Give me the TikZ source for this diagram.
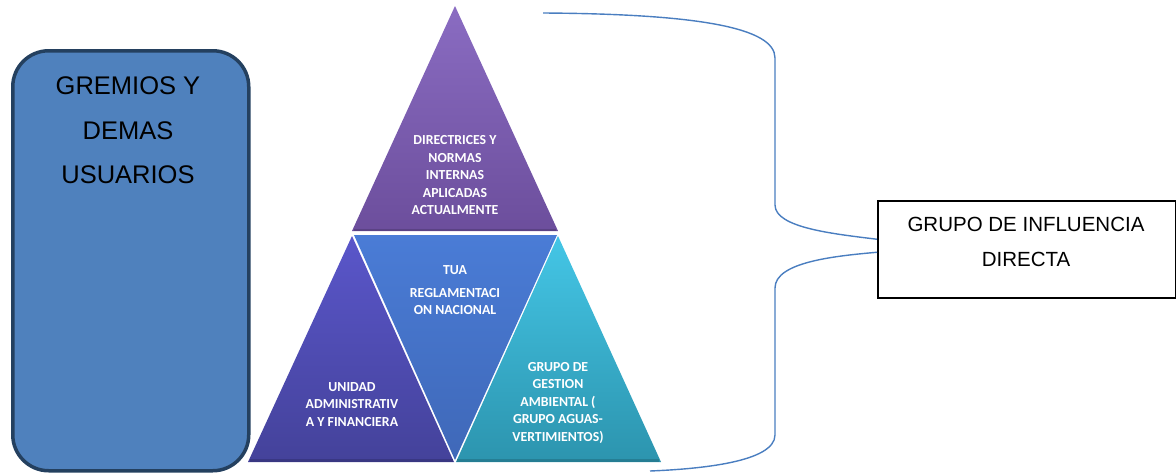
\documentclass[tikz,border=0pt]{standalone}
\usepackage{fontspec}
\setmainfont{Liberation Sans}
\newfontfamily\carl{Carlito}
\definecolor{boxblue}{HTML}{4F81BD}
\definecolor{boxedge}{HTML}{24405F}
\definecolor{brcol}{HTML}{4A7EC0}
\definecolor{purtop}{HTML}{8A6CC2}
\definecolor{purbot}{HTML}{6C4E9C}
\definecolor{indtop}{HTML}{5A56CA}
\definecolor{indbot}{HTML}{44429A}
\definecolor{midtop}{HTML}{4A7CD6}
\definecolor{midbot}{HTML}{3F68B8}
\definecolor{cyatop}{HTML}{44C6E6}
\definecolor{cyabot}{HTML}{2C94AE}
\begin{document}
\begin{tikzpicture}[x=1pt,y=-1pt,
  tritext/.style={text=white, font=\carl\bfseries\fontsize{13.8}{17.5}\selectfont, align=center, inner sep=0pt},
  bigtext/.style={text=black, align=center, inner sep=0pt},
  brace/.style={draw=brcol, line width=1.4pt}]
\useasboundingbox (0,0) rectangle (1176,472);
% left rounded box
\node[draw=boxedge, line width=3.5pt, fill=boxblue, rounded corners=36pt,
      minimum width=236pt, minimum height=420pt, anchor=north west, inner sep=0pt] (gremios) at (11,49) {};
\node[bigtext, font=\fontsize{25.5}{44.5}\selectfont] (gremiostext) at (128,130.5) {GREMIOS Y\\DEMAS\\USUARIOS};
% triangles
\shade[top color=purtop, bottom color=purbot] (455,6) -- (558,231) -- (352,231) -- cycle;
\draw[purbot!70!black, line width=2.5pt, opacity=0.5] (354,230) -- (556,230);
\shade[top color=indtop, bottom color=indbot] (352,236) -- (454,462) -- (248,462) -- cycle;
\shade[top color=midtop, bottom color=midbot] (354,235) -- (557,235) -- (455,460) -- cycle;
\shade[top color=cyatop, bottom color=cyabot] (558,236) -- (661,462) -- (456,462) -- cycle;
\draw[indbot!70!black, line width=3pt, opacity=0.5] (250,460.5) -- (453,460.5);
\draw[cyabot!70!black, line width=3pt, opacity=0.5] (457,460.5) -- (659,460.5);
% triangle texts
\node[tritext] (directrices) at (455,175.5) {DIRECTRICES Y\\NORMAS\\INTERNAS\\APLICADAS\\ACTUALMENTE};
\node[tritext] (tua) at (455,290.5) {TUA\\[5pt]REGLAMENTACI\\ON NACIONAL};
\node[tritext] (unidad) at (352,404.5) {UNIDAD\\ADMINISTRATIV\\A Y FINANCIERA};
\node[tritext] (gestion) at (558,403) {GRUPO DE\\GESTION\\AMBIENTAL (\\GRUPO AGUAS-\\VERTIMIENTOS)};
% right box
\node[draw=black, line width=1.5pt, fill=white, minimum width=298pt, minimum height=97pt,
      anchor=north west, inner sep=0pt] (gid) at (877,200) {};
\node[bigtext, font=\fontsize{20.5}{35}\selectfont] (gidtext) at (1026,241.5) {GRUPO DE INFLUENCIA\\DIRECTA};
% brace
\coordinate (bstart) at (543,13);
\coordinate (bend) at (650,471);
\draw[brace] (bstart) .. controls (700,14) and (775,28) .. (775,58) -- (775,205)
   .. controls (775,228) and (835,234) .. ([yshift=10pt]gid.west);
\draw[brace] ([yshift=-3pt]gid.west) .. controls (835,256) and (775,262) .. (775,288) -- (775,435)
   .. controls (775,462) and (700,469) .. (bend);
\end{tikzpicture}
\end{document}
